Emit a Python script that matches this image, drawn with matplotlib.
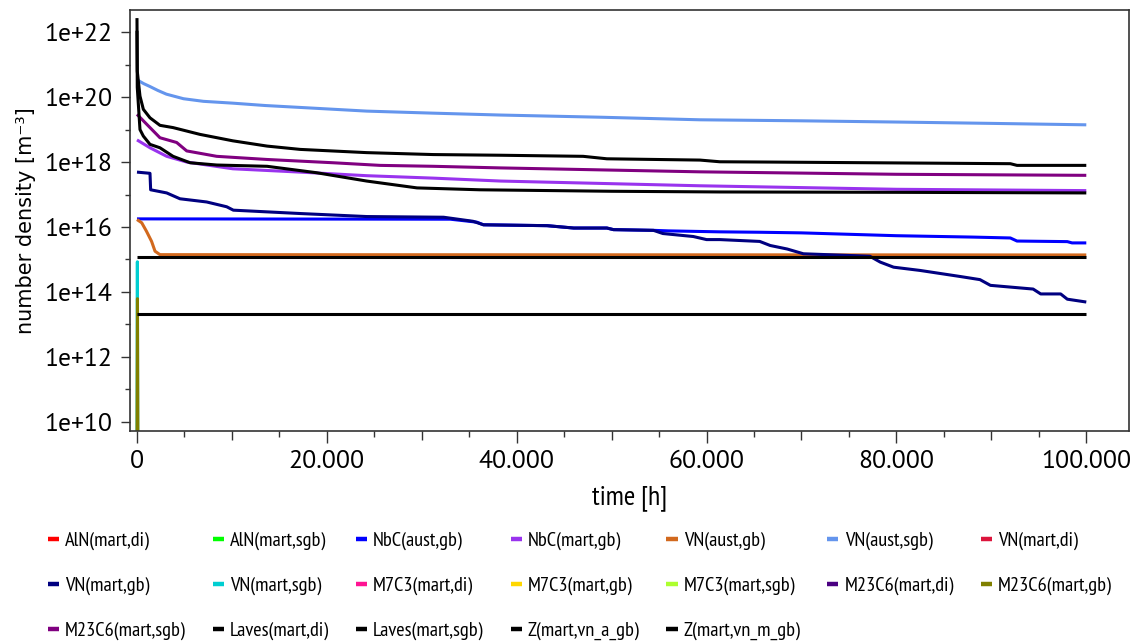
import numpy as np
import matplotlib
matplotlib.use("Agg")
import matplotlib.pyplot as plt
from matplotlib import font_manager as fm
from matplotlib.ticker import FixedLocator, FuncFormatter, NullFormatter

# time axis [h] and number densities [m^-3] per precipitate class
t_vn_aust_sgb = [0, 200, 700, 1400, 2200, 3100, 4900, 7000, 10100, 13500, 17200, 24200,
                 31200, 38300, 48800, 59300, 70000, 80400, 90000, 100000]
n_vn_aust_sgb = [3.55e20, 3.16e20, 2.6e20, 2.09e20, 1.6e20, 1.23e20, 8.9e19, 7.4e19,
                 6.5e19, 5.5e19, 4.8e19, 3.7e19, 3.2e19, 2.8e19, 2.4e19, 2.0e19,
                 1.86e19, 1.7e19, 1.55e19, 1.4e19]

t_laves_di = [0, 30, 316, 670, 1370, 2420, 3800, 6640, 10100, 13700, 17200, 24200,
              31200, 38300, 47000, 49500, 59300, 61400, 66400, 92000, 92700, 100000]
n_laves_di = [2.7e22, 6.3e20, 1.07e20, 4.2e19, 2.3e19, 1.35e19, 1.15e19, 7.1e18,
              4.5e18, 3.1e18, 2.45e18, 1.95e18, 1.7e18, 1.62e18, 1.5e18, 1.26e18,
              1.15e18, 1.02e18, 1.0e18, 8.9e17, 7.9e17, 7.9e17]

t_laves_sgb = [0, 30, 316, 670, 1370, 2420, 3800, 5600, 8400, 13700, 18900, 24200,
               29500, 36100, 50000, 61400, 80000, 100000]
n_laves_sgb = [1.1e22, 2.0e20, 1.0e19, 6.3e18, 3.5e18, 2.75e18, 1.5e18, 9.5e17,
               8.1e17, 7.4e17, 4.7e17, 2.6e17, 1.6e17, 1.4e17, 1.26e17, 1.2e17,
               1.17e17, 1.12e17]

t_m23c6_sgb = [0, 1370, 2420, 4180, 5240, 8400, 13700, 20700, 25600, 31200, 38300,
               59300, 80000, 100000]
n_m23c6_sgb = [2.95e19, 1.15e19, 5.6e18, 4.0e18, 2.2e18, 1.5e18, 1.2e18, 9.5e17,
               7.9e17, 7.4e17, 6.6e17, 5.0e17, 4.2e17, 3.9e17]

t_nbc_mart_gb = [0, 1370, 3130, 5240, 10100, 17200, 24200, 31200, 38300, 59300,
                 80000, 100000]
n_nbc_mart_gb = [4.8e18, 2.75e18, 1.5e18, 1.0e18, 6.2e17, 4.9e17, 3.8e17, 3.2e17,
                 2.6e17, 1.86e17, 1.45e17, 1.32e17]

t_vn_mart_gb = [0, 1370, 1440, 3130, 4530, 7340, 9450, 10150, 17200, 24200, 32300,
                35400, 36500, 43200, 46000, 49500, 50200, 54400, 55400, 58600, 60000,
                61400, 65600, 66700, 68500, 70200, 77200, 78300, 79700, 82500, 86700,
                88800, 89900, 94400, 95200, 97300, 98000, 100000]
n_vn_mart_gb = [4.9e17, 4.5e17, 1.4e17, 1.12e17, 7.4e16, 5.9e16, 4.2e16, 3.3e16,
                2.6e16, 2.1e16, 2.0e16, 1.5e16, 1.17e16, 1.1e16, 9.3e15, 9.3e15,
                8.3e15, 7.9e15, 6.3e15, 5.1e15, 4.1e15, 4.1e15, 3.6e15, 2.7e15,
                2.1e15, 1.5e15, 1.26e15, 8.3e14, 5.8e14, 4.6e14, 3.0e14, 2.4e14,
                1.6e14, 1.23e14, 8.7e13, 8.7e13, 6.0e13, 4.9e13]

t_nbc_aust_gb = [0, 33000, 35800, 36500, 43200, 46000, 49500, 50200, 54400, 56000,
                 61400, 65600, 70000, 80000, 88000, 92000, 92700, 98000, 98500, 100000]
n_nbc_aust_gb = [1.78e16, 1.74e16, 1.41e16, 1.17e16, 1.1e16, 9.3e15, 9.3e15, 8.3e15,
                 7.9e15, 7.6e15, 7.1e15, 6.9e15, 6.6e15, 5.4e15, 4.9e15, 4.6e15,
                 3.7e15, 3.55e15, 3.24e15, 3.24e15]

t_vn_aust_gb = [0, 500, 1000, 1540, 1900, 2420, 100000]
n_vn_aust_gb = [1.7e16, 1.35e16, 7.4e15, 3.6e15, 1.8e15, 1.41e15, 1.38e15]

t_z_a_gb = [0, 100000]
n_z_a_gb = [1.17e15, 1.17e15]

t_z_m_gb = [0, 100000]
n_z_m_gb = [2.1e13, 2.1e13]

t_vn_mart_sgb = [0, 40, 80]
n_vn_mart_sgb = [1e9, 8.5e14, 1e9]

t_m23c6_gb = [0, 50, 100]
n_m23c6_gb = [1e9, 6.2e13, 1e9]

empty = ([], [])

# legend order, row by row
series = [
    ("AlN(mart,di)", "#ff0000", empty),
    ("AlN(mart,sgb)", "#00ff00", empty),
    ("NbC(aust,gb)", "#0000ff", (t_nbc_aust_gb, n_nbc_aust_gb)),
    ("NbC(mart,gb)", "#9933ee", (t_nbc_mart_gb, n_nbc_mart_gb)),
    ("VN(aust,gb)", "#d2691e", (t_vn_aust_gb, n_vn_aust_gb)),
    ("VN(aust,sgb)", "#6495ed", (t_vn_aust_sgb, n_vn_aust_sgb)),
    ("VN(mart,di)", "#dc143c", empty),
    ("VN(mart,gb)", "#000080", (t_vn_mart_gb, n_vn_mart_gb)),
    ("VN(mart,sgb)", "#00ced1", (t_vn_mart_sgb, n_vn_mart_sgb)),
    ("M7C3(mart,di)", "#ff1493", empty),
    ("M7C3(mart,gb)", "#ffd700", empty),
    ("M7C3(mart,sgb)", "#adff2f", empty),
    ("M23C6(mart,di)", "#4b0082", empty),
    ("M23C6(mart,gb)", "#808000", (t_m23c6_gb, n_m23c6_gb)),
    ("M23C6(mart,sgb)", "#800080", (t_m23c6_sgb, n_m23c6_sgb)),
    ("Laves(mart,di)", "black", (t_laves_di, n_laves_di)),
    ("Laves(mart,sgb)", "black", (t_laves_sgb, n_laves_sgb)),
    ("Z(mart,vn_a_gb)", "black", (t_z_a_gb, n_z_a_gb)),
    ("Z(mart,vn_m_gb)", "black", (t_z_m_gb, n_z_m_gb)),
]


def first_font(names, default="DejaVu Sans"):
    available = {f.name for f in fm.fontManager.ttflist}
    for name in names:
        if name in available:
            return name
    return default


narrow = first_font(["PT Sans Narrow", "Archivo Narrow", "Liberation Sans Narrow"])
ticks_font = first_font(["PT Sans", "PT Sans Narrow", "Archivo Narrow"])

fig = plt.figure(figsize=(11.34, 6.43), dpi=100)
ax = fig.add_axes([0.1146, 0.3297, 0.881, 0.6547])

handles = []
for label, color, (t, n) in series:
    h, = ax.plot(t, n, color=color, lw=2.2, label=label, solid_capstyle="butt")
    handles.append(h)

ax.set_yscale("log")
ax.set_xlim(-740, 104500)
ax.set_ylim(10**9.72, 10**22.68)

# y axis: labels every second decade
ax.yaxis.set_major_locator(FixedLocator([10.0**k for k in range(10, 23, 2)]))
ax.yaxis.set_minor_locator(FixedLocator([10.0**k for k in range(11, 23, 2)]))
ax.yaxis.set_major_formatter(FuncFormatter(lambda y, p: "1e+%02d" % round(np.log10(y))))
ax.yaxis.set_minor_formatter(NullFormatter())

# x axis: ticks every 10.000 h, labels every 20.000 h
xt = np.arange(0, 100001, 10000)
ax.set_xticks(xt)
ax.set_xticklabels([f"{int(v):,}".replace(",", ".") if v % 20000 == 0 else "" for v in xt])
ax.xaxis.set_minor_locator(FixedLocator(np.arange(5000, 100000, 10000)))

ax.tick_params(axis="both", which="both", direction="out", color="#333333", width=1.0)
ax.tick_params(axis="x", which="major", length=8.6, pad=5)
ax.tick_params(axis="x", which="minor", length=4.3)
ax.tick_params(axis="y", which="major", length=6.5, pad=6)
ax.tick_params(axis="y", which="minor", length=3.6)
for tk, v in zip(ax.xaxis.get_major_ticks(), xt):
    if v % 20000:
        tk.tick1line.set_markersize(6.5)

for lab in ax.get_xticklabels() + ax.get_yticklabels():
    lab.set_family(ticks_font)
    lab.set_fontsize(18.5)
    lab.set_fontweight("normal")
    lab.set_color("black")

for sp in ax.spines.values():
    sp.set_color("#333333")
    sp.set_linewidth(1.2)

ax.set_xlabel("time [h]", family=narrow, fontsize=20, labelpad=9)
ax.set_ylabel("number density [m⁻³]", family="DejaVu Sans", fontsize=15, labelpad=6)

# legend filled column by column: reorder so it reads row by row
ncol = 7
rows = [handles[i:i + ncol] for i in range(0, len(handles), ncol)]
ordered = []
for c in range(ncol):
    for r in rows:
        if c < len(r):
            ordered.append(r[c])

leg = fig.legend(handles=ordered, labels=[h.get_label() for h in ordered],
                 ncol=ncol, loc="upper left", bbox_to_anchor=(0.0423, 0.1734),
                 frameon=False, handlelength=0.54, handletextpad=0.3,
                 columnspacing=1.32, labelspacing=1.3, borderpad=0, borderaxespad=0,
                 prop={"family": narrow, "size": 14.7})
for line in leg.get_lines():
    line.set_linewidth(3.2)

fig.savefig("out.png", dpi=100)
